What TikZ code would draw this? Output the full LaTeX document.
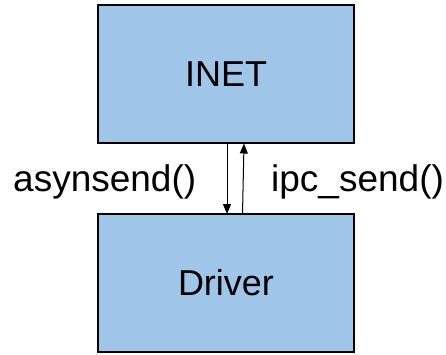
\documentclass[tikz,border=0pt]{standalone}
\usepackage{fontspec}
\setmainfont{Liberation Sans}
\usetikzlibrary{arrows.meta}
\definecolor{boxblue}{HTML}{9FC5E8}
\begin{document}
\begin{tikzpicture}[x=1pt,y=-1pt,
  block/.style={draw=black, line width=1.4pt, fill=boxblue, minimum width=256pt, minimum height=138pt, inner sep=0pt, font=\fontsize{36}{40}\selectfont},
  lbl/.style={font=\fontsize{37}{40}\selectfont, inner sep=0pt},
  flow/.style={line width=1pt, -{Triangle[length=10pt,width=8pt]}}]
  \useasboundingbox (0,0) rectangle (446,354);
  \node[block] (inet) at (226,74) {INET};
  \node[block] (drv) at (226,283) {Driver};
  \coordinate (d1) at (227,143.5);
  \coordinate (d2) at (227,214);
  \coordinate (u1) at (242.5,214);
  \coordinate (u2) at (244,143.5);
  \draw[flow] (d1) -- (d2);
  \draw[flow] (u1) -- (u2);
  \node[lbl, anchor=west] (la) at (13,182) {asynsend()};
  \node[lbl, anchor=west] (lb) at (271,182) {ipc\_send()};
\end{tikzpicture}
\end{document}
